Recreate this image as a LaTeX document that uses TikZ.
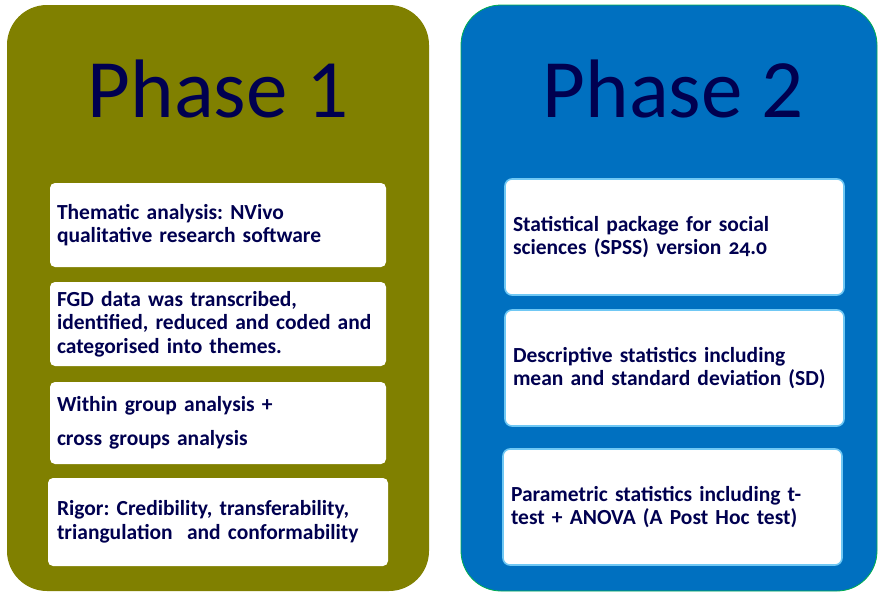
\documentclass[tikz,border=0pt]{standalone}
\usepackage{fontspec}
\setmainfont{Carlito}
\usetikzlibrary{positioning}
\definecolor{phaseolive}{HTML}{808000}
\definecolor{phaseblue}{HTML}{0070C0}
\definecolor{phaseedge}{HTML}{00B050}
\definecolor{boxedge}{HTML}{70C8F4}
\definecolor{navytext}{HTML}{000050}
\frenchspacing

\begin{document}
\begin{tikzpicture}[x=1pt,y=-1pt,
  title/.style={text=navytext,font=\fontsize{83}{90}\selectfont,inner sep=0pt,anchor=base},
  leftbox/.style={fill=white,rounded corners=5pt,minimum width=336pt,inner xsep=7pt,text width=322pt,align=left,
    text=navytext,font=\fontsize{21.5}{23.5}\selectfont\bfseries},
  rightbox/.style={leftbox,draw=boxedge,line width=1.6pt,rounded corners=7pt,minimum width=339pt,inner xsep=8pt,text width=323pt}]
  \useasboundingbox (0,0) rectangle (878,592);
  % the two phase panels
  \fill[phaseolive,rounded corners=40pt] (7,5) rectangle (429,591);
  \draw[phaseedge,fill=phaseblue,line width=0.8pt,rounded corners=40pt] (461,5) rectangle (877,591);
  \path (218,117) node[title] (ph1) {Phase 1}
  (673,117) node[title] (ph2) {Phase 2};
  % phase 1 steps
  \path (218,225) node[leftbox,minimum height=84pt] (a1) {Thematic analysis: NVivo\\qualitative research software}
  (218,324) node[leftbox,minimum height=84pt] (a2) {FGD data was transcribed,\\identified, reduced and coded and\\categorised into themes.}
  (218,423) node[leftbox,minimum height=82pt] (a3) {Within group analysis +\\[10pt]cross groups analysis}
  (218,522) node[leftbox,minimum height=88pt,minimum width=340pt] (a4) {Rigor: Credibility, transferability,\\triangulation\ \ and conformability};
  % phase 2 steps
  \path (674.5,237) node[rightbox,minimum height=116pt] (b1) {Statistical package for social\\sciences (SPSS) version {\addfontfeature{Numbers=OldStyle}24.0}}
  (674.5,368) node[rightbox,minimum height=116pt] (b2) {Descriptive statistics including\\mean and standard deviation (SD)}
  (672.5,507) node[rightbox,minimum height=116pt] (b3) {Parametric statistics including t-\\test + ANOVA (A Post Hoc test)};
\end{tikzpicture}
\end{document}
